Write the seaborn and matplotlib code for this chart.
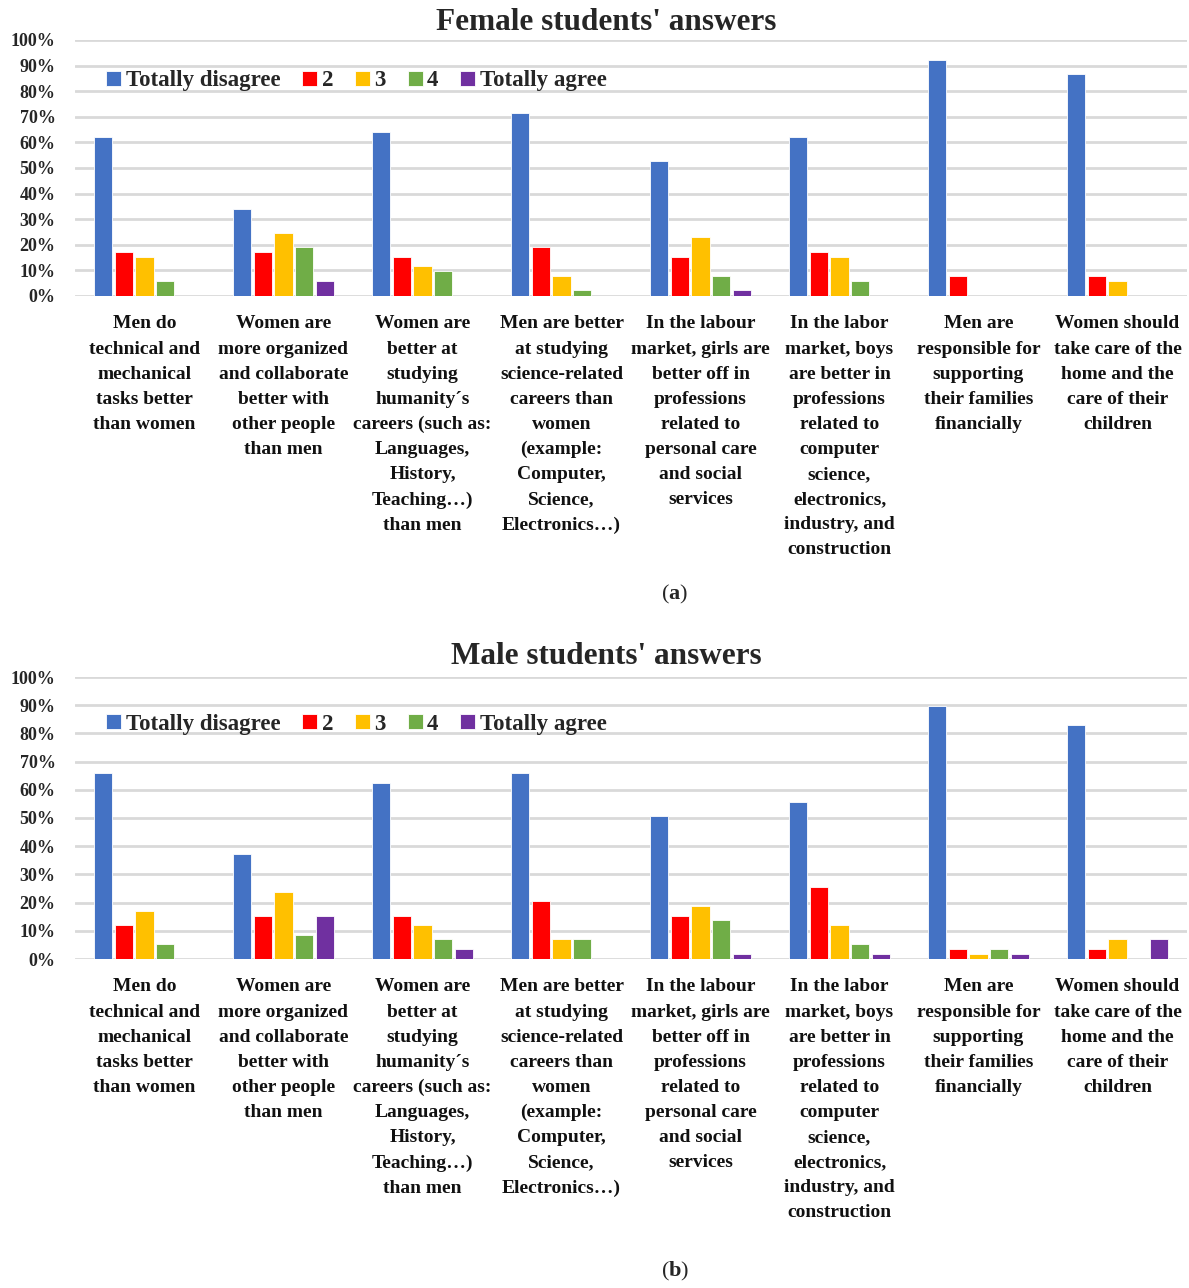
import matplotlib
matplotlib.use("Agg")
import matplotlib.pyplot as plt
import seaborn as sns
import pandas as pd

# Survey statements (x categories), wrapped as printed under each group
statements = [
    "Men do\ntechnical and\nmechanical\ntasks better\nthan women",
    "Women are\nmore organized\nand collaborate\nbetter with\nother people\nthan men",
    "Women are\nbetter at\nstudying\nhumanity\u00b4s\ncareers (such as:\nLanguages,\nHistory,\nTeaching\u2026)\nthan men",
    "Men are better\nat studying\nscience-related\ncareers than\nwomen\n(example:\nComputer,\nScience,\nElectronics\u2026)",
    "In the labour\nmarket, girls are\nbetter off in\nprofessions\nrelated to\npersonal care\nand social\nservices",
    "In the labor\nmarket, boys\nare better in\nprofessions\nrelated to\ncomputer\nscience,\nelectronics,\nindustry, and\nconstruction",
    "Men are\nresponsible for\nsupporting\ntheir families\nfinancially",
    "Women should\ntake care of the\nhome and the\ncare of their\nchildren",
]

answers = ["Totally disagree", "2", "3", "4", "Totally agree"]

# Female students' answers (% per answer level, one value per statement)
female_totally_disagree = [62.0, 33.9, 64.1, 71.6, 52.6, 62.1, 92.3, 86.7]
female_2 = [17.2, 17.2, 15.2, 19.0, 15.4, 17.2, 7.7, 7.7]
female_3 = [15.2, 24.7, 11.6, 7.7, 22.9, 15.2, 0.0, 6.0]
female_4 = [6.0, 19.0, 9.8, 2.2, 7.7, 5.9, 0.0, 0.0]
female_totally_agree = [0.0, 6.0, 0.0, 0.0, 2.2, 0.0, 0.0, 0.0]

# Male students' answers
male_totally_disagree = [65.8, 37.1, 62.4, 65.8, 50.6, 55.7, 89.7, 83.0]
male_2 = [12.1, 15.4, 15.4, 20.4, 15.4, 25.5, 3.5, 3.5]
male_3 = [17.1, 23.9, 12.1, 7.0, 18.7, 12.1, 1.8, 7.0]
male_4 = [5.2, 8.6, 7.0, 7.0, 13.7, 5.2, 3.5, 0.0]
male_totally_agree = [0.0, 15.4, 3.5, 0.0, 1.8, 1.8, 1.8, 7.0]

palette = ["#4472C4", "#FF0000", "#FFC000", "#70AD47", "#7030A0"]
yticks = [0, 10, 20, 30, 40, 50, 60, 70, 80, 90, 100]


def long_table(series):
    rows = []
    for ans, vals in zip(answers, series):
        for st, v in zip(statements, vals):
            rows.append({"statement": st, "answer": ans, "pct": v})
    return pd.DataFrame(rows)


sns.set_theme(style="white")
plt.rcParams["font.family"] = ["Liberation Serif", "DejaVu Serif"]
plt.rcParams["font.weight"] = "bold"
plt.rcParams["mathtext.fontset"] = "custom"
plt.rcParams["mathtext.rm"] = "Liberation Serif"
plt.rcParams["mathtext.bf"] = "Liberation Serif:bold"

W, H = 1189, 1288
fig = plt.figure(figsize=(W / 100, H / 100), dpi=100)


def px_axes(x0, y_top, x1, y_bot):
    return fig.add_axes([x0 / W, 1 - y_bot / H, (x1 - x0) / W, (y_bot - y_top) / H])


panels = [
    ("Female students' answers", [female_totally_disagree, female_2, female_3, female_4, female_totally_agree],
     (75, 40, 1187, 296), 22, r"($\mathbf{a}$)", 594, 0.84),
    ("Male students' answers", [male_totally_disagree, male_2, male_3, male_4, male_totally_agree],
     (75, 677, 1187, 959), 656, r"($\mathbf{b}$)", 1271, 0.833),
]

for title, series, box, title_y, tag, tag_y, leg_y in panels:
    ax = px_axes(*box)
    df = long_table(series)
    sns.barplot(data=df, x="statement", y="pct", hue="answer", hue_order=answers,
                order=statements, palette=palette, width=0.74, gap=0.12,
                saturation=1, edgecolor="white", linewidth=0.6, ax=ax, zorder=3)
    ax.set_ylim(0, 100)
    ax.set_xlim(-0.5, len(statements) - 0.5)
    ax.set_yticks(yticks)
    ax.set_yticklabels([f"{t}%" for t in yticks], fontsize=13, fontweight="bold")
    ax.yaxis.grid(True, color="#D9D9D9", linewidth=2, zorder=0)
    ax.set_axisbelow(True)
    for s in ax.spines.values():
        s.set_visible(False)
    ax.tick_params(axis="both", length=0)
    ax.tick_params(axis="y", pad=14)
    ax.tick_params(axis="x", pad=14)
    ax.set_xticks(range(len(statements)))
    ax.set_xticklabels(statements, fontsize=14, fontweight="bold", va="top",
                       linespacing=1.62, color="#111111")
    ax.set_xlabel("")
    ax.set_ylabel("")
    ax.legend(loc="center left", bbox_to_anchor=(0.02, leg_y), ncol=5, frameon=False,
              handlelength=0.65, handleheight=0.65, handletextpad=0.2,
              columnspacing=0.95, borderaxespad=0, prop={"weight": "bold", "size": 16.5})
    fig.text(606 / W, 1 - title_y / H, title, ha="center", va="center",
             fontsize=22.5, fontweight="bold")
    fig.text(675 / W, 1 - tag_y / H, tag, ha="center", va="center", fontsize=16,
             fontweight="normal")

fig.savefig("out.png", dpi=100, facecolor="white")
